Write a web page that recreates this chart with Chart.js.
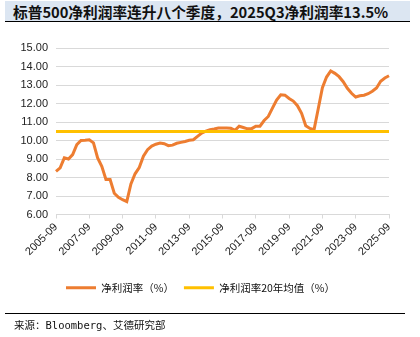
<!DOCTYPE html>
<html>
<head>
<meta charset="utf-8">
<script src="https://cdn.jsdelivr.net/npm/chart.js@4.4.1/dist/chart.umd.min.js"></script>
<style>
  html, body { margin: 0; padding: 0; background: #fff; }
  #wrap { position: relative; width: 420px; height: 337px; overflow: hidden; }
  #title {
    position: absolute; left: 5px; top: 1px; width: 405px; height: 21px;
    background: #dce6f2; border-bottom: 1.5px solid #000;
    font: bold 14.7px "Noto Sans CJK SC", sans-serif; line-height: 21px;
    color: #111; padding-left: 8px; box-sizing: border-box; white-space: nowrap;
  }
  #foot-line { position: absolute; left: 5px; top: 313px; width: 400px; height: 0; border-top: 1px solid #000; }
  #source {
    position: absolute; left: 14px; top: 317px;
    font: 10.5px "DejaVu Sans Mono", "Noto Sans CJK SC", monospace; color: #111;
  }
  #chartBox { position: absolute; left: 0; top: 0; width: 420px; height: 337px; }
</style>
</head>
<body>
<div id="wrap">
  <div id="chartBox"><canvas id="marginChart"></canvas></div>
  <div id="title">标普500净利润率连升八个季度，2025Q3净利润率13.5%</div>
  <div id="foot-line"></div>
  <div id="source">来源：Bloomberg、艾德研究部</div>
</div>
<script>
// quarters 2005-09 .. 2025-09
const quarters = [];
for (let y = 2005; y <= 2025; y++) {
  ['03', '06', '09', '12'].forEach(m => {
    const q = y + '-' + m;
    if (q >= '2005-09' && q <= '2025-09') quarters.push(q);
  });
}

// S&P 500 net margin (%)
const netMargin = [
  8.33, 8.52, 9.06, 9.00, 9.24, 9.78, 10.00, 10.01, 10.04, 9.87,
  9.06, 8.61, 7.89, 7.89, 7.15, 6.93, 6.80, 6.70, 7.65, 8.20,
  8.54, 9.15, 9.50, 9.70, 9.80, 9.86, 9.83, 9.72, 9.75, 9.85,
  9.90, 9.95, 10.01, 10.04, 10.22, 10.40, 10.50, 10.58, 10.62, 10.67,
  10.68, 10.68, 10.66, 10.55, 10.77, 10.70, 10.63, 10.64, 10.77, 10.77,
  11.08, 11.30, 11.75, 12.18, 12.47, 12.45, 12.27, 12.13, 11.88, 11.47,
  10.80, 10.65, 10.59, 11.72, 12.85, 13.43, 13.76, 13.63, 13.45, 13.18,
  12.82, 12.55, 12.35, 12.42, 12.45, 12.53, 12.66, 12.84, 13.20, 13.38,
  13.50
];

// 20-year average net margin (%)
const avgMargin = 10.48;
const avgLine = quarters.map(() => avgMargin);

const seriesNames = ['净利润率（%）', '净利润率20年均值（%）'];

const ctx = document.getElementById('marginChart');
new Chart(ctx, {
  type: 'line',
  data: {
    labels: quarters,
    datasets: [{
      label: seriesNames[0],
      data: netMargin,
      borderColor: '#ED7D31',
      backgroundColor: '#ED7D31',
      borderWidth: 3,
      pointRadius: 0,
      tension: 0,
      order: 1
    }, {
      label: seriesNames[1],
      data: avgLine,
      borderColor: '#FFC000',
      backgroundColor: '#FFC000',
      borderWidth: 3,
      pointRadius: 0,
      tension: 0,
      order: 0
    }]
  },
  options: {
    responsive: true,
    maintainAspectRatio: false,
    animation: false,
    layout: { padding: { top: 48, left: 12, right: 31, bottom: 34 } },
    plugins: {
      legend: {
        position: 'bottom',
        labels: {
          usePointStyle: true,
          pointStyle: 'line',
          pointStyleWidth: 30,
          padding: 10,
          color: '#111',
          font: { family: '"Noto Sans CJK SC", sans-serif', size: 10.5 },
          sort: (a, b) => a.datasetIndex - b.datasetIndex
        }
      },
      tooltip: { enabled: false }
    },
    scales: {
      x: {
        afterFit: (scale) => { scale.height = 58; },
        grid: {
          drawOnChartArea: false,
          drawTicks: true,
          tickLength: 4,
          color: '#d9d9d9'
        },
        border: { display: true, color: '#d9d9d9' },
        ticks: {
          autoSkip: false,
          minRotation: 45,
          maxRotation: 45,
          padding: 2,
          color: '#222',
          font: { family: '"Liberation Sans", Arial, sans-serif', size: 11 },
          callback: (val, i) => (i % 8 === 0 ? quarters[i] : null)
        }
      },
      y: {
        min: 6,
        max: 15,
        afterFit: (scale) => { scale.width = 44; },
        grid: { color: '#d9d9d9', drawTicks: false },
        border: { display: false },
        ticks: {
          stepSize: 1,
          padding: 8,
          color: '#222',
          font: { family: '"Liberation Sans", Arial, sans-serif', size: 11 },
          callback: (v) => v.toFixed(2)
        }
      }
    }
  }
});
</script>
</body>
</html>
